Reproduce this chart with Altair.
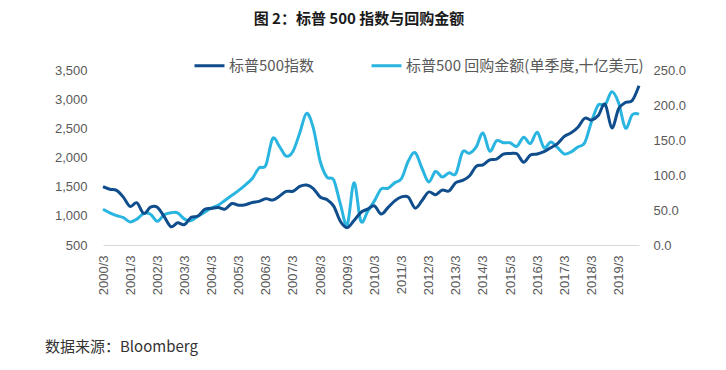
import altair as alt
import pandas as pd

years = list(range(2000, 2020))
quarters = [f"{y}/{m}" for y in years for m in (3, 6, 9, 12)]
tick_labels = [f"{y}/3" for y in years]

series_names = ["标普500指数", "标普500 回购金额(单季度,十亿美元)"]
series_colors = ["#0f4d8c", "#29b5e0"]

spx = [1498.6, 1454.6, 1436.5, 1320.3,
       1160.3, 1224.4, 1040.9, 1148.1,
       1147.4, 989.8, 815.3, 879.8,
       848.2, 974.5, 996.0, 1111.9,
       1126.2, 1140.8, 1114.6, 1211.9,
       1180.6, 1191.3, 1228.8, 1248.3,
       1294.8, 1270.2, 1335.8, 1418.3,
       1420.9, 1503.4, 1526.8, 1468.4,
       1322.7, 1280.0, 1166.4, 903.3,
       797.9, 919.3, 1057.1, 1115.1,
       1169.4, 1030.7, 1141.2, 1257.6,
       1325.8, 1320.6, 1131.4, 1257.6,
       1408.5, 1362.2, 1440.7, 1426.2,
       1569.2, 1606.3, 1681.6, 1848.4,
       1872.3, 1960.2, 1972.3, 2058.9,
       2067.9, 2063.1, 1920.0, 2043.9,
       2059.7, 2098.9, 2168.3, 2238.8,
       2362.7, 2423.4, 2519.4, 2673.6,
       2640.9, 2718.4, 2914.0, 2506.9,
       2834.4, 2941.8, 2976.7, 3230.8]

buyback = [51, 46, 42, 39, 33, 37, 45, 44,
           34, 43, 46, 46, 37, 35, 41, 47,
           53, 57, 64, 71, 78, 86, 95, 110,
           114, 152, 141, 127, 134, 160, 188, 167,
           120, 97, 93, 58, 29, 89, 34, 48,
           63, 80, 81, 89, 95, 120, 132, 110,
           90, 105, 97, 103, 102, 133, 131, 140,
           160, 134, 149, 146, 146, 141, 154, 145,
           161, 139, 147, 139, 130, 133, 140, 146,
           176, 200, 200, 219, 203, 167, 186, 187]

title_text = "图 2：标普 500 指数与回购金额"
source_text = "数据来源：Bloomberg"

df_spx = pd.DataFrame({"quarter": quarters, "value": spx, "series": series_names[0]})
df_buy = pd.DataFrame({"quarter": quarters, "value": buyback, "series": series_names[1]})

AX_FONT = "Liberation Sans"
CJK = "Noto Sans CJK SC"
GRAY = "#595959"

color_scale = alt.Scale(domain=series_names, range=series_colors)
legend = alt.Legend(
    orient="none", legendX=90, legendY=-21, direction="horizontal", title=None,
    symbolType="stroke", symbolStrokeWidth=3, symbolSize=900,
    labelFont=CJK, labelFontSize=15, labelColor=GRAY, labelOffset=3,
    columnPadding=51, padding=0, labelLimit=400,
)

x_enc = alt.X(
    "quarter:O", sort=None, title=None,
    scale=alt.Scale(type="point", padding=0),
    axis=alt.Axis(values=tick_labels, labelAngle=270, labelFont=AX_FONT,
                  labelFontSize=13, labelColor=GRAY, ticks=False,
                  domainColor="#d9d9d9", domainWidth=1, labelPadding=10,
                  labelOverlap=False, grid=False),
)
color_enc = alt.Color("series:N", scale=color_scale, legend=legend)

line_buy = alt.Chart(df_buy).mark_line(strokeWidth=3, interpolate="cardinal").encode(
    x=x_enc,
    y=alt.Y("value:Q", title=None,
            scale=alt.Scale(domain=[0, 250], nice=False, zero=False),
            axis=alt.Axis(orient="right", values=[0, 50, 100, 150, 200, 250],
                          format=".1f", labelFont=AX_FONT, labelFontSize=13,
                          labelColor=GRAY, ticks=False, domain=False, grid=False,
                          labelPadding=14)),
    color=color_enc,
)

line_spx = alt.Chart(df_spx).mark_line(strokeWidth=3, interpolate="cardinal").encode(
    x=x_enc,
    y=alt.Y("value:Q", title=None,
            scale=alt.Scale(domain=[500, 3500], nice=False, zero=False),
            axis=alt.Axis(orient="left", values=[500, 1000, 1500, 2000, 2500, 3000, 3500],
                          format=",.0f", labelFont=AX_FONT, labelFontSize=13,
                          labelColor=GRAY, ticks=False, domain=False, grid=False,
                          labelPadding=16)),
    color=color_enc,
)

title_mark = alt.Chart(pd.DataFrame({"t": [title_text]})).mark_text(
    font=CJK, fontSize=15, fontWeight="bold", color="#1a1a1a",
    align="center", baseline="middle",
).encode(x=alt.value(256), y=alt.value(-51), text="t:N")

source_mark = alt.Chart(pd.DataFrame({"t": [source_text]})).mark_text(
    font=CJK, fontSize=15, color="#333333", align="left", baseline="middle",
).encode(x=alt.value(-58), y=alt.value(277), text="t:N")

chart = alt.layer(line_buy, line_spx, title_mark, source_mark).resolve_scale(
    y="independent"
).properties(
    width=536, height=175,
    padding={"left": 95, "top": 62, "right": 79, "bottom": 117},
    autosize=alt.AutoSizeParams(type="none"),
).configure_view(stroke=None)

chart.save("out.html", embed_options={"renderer": "svg", "actions": False})
